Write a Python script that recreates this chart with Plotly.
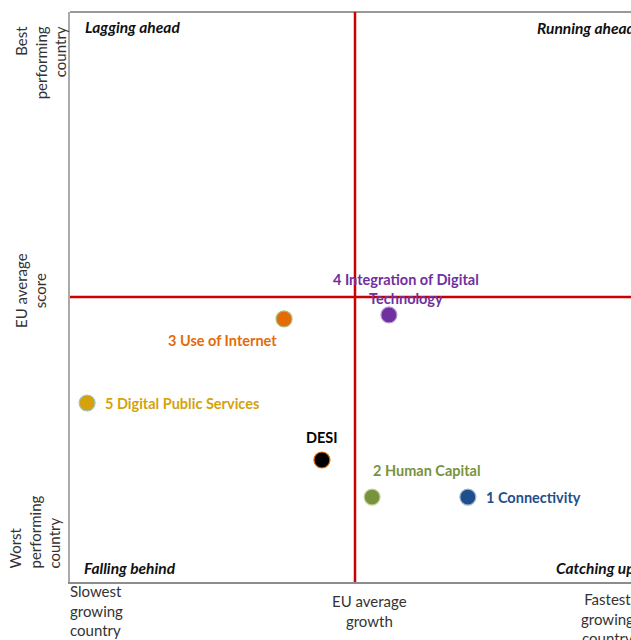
import plotly.graph_objects as go

# ---- data ----
names = ["DESI", "1 Connectivity", "2 Human Capital", "3 Use of Internet",
         "4 Integration of Digital<br>Technology", "5 Digital Public Services"]
growth = [-0.116, 0.396, 0.060, -0.249, 0.119, -0.940]
score = [-0.572, -0.702, -0.702, -0.077, -0.063, -0.372]

colors = ["#000000", "#1F4E8C", "#77933C", "#E36C09", "#7030A0", "#D4A20A"]
outlines = ["#E36C09", "#9DB3CC", "#C5D3A8", "#A9C07A", "#B79AD0", "#9FC5C9"]
label_colors = ["#000000", "#1F4E8C", "#77933C", "#E36C09", "#7030A0", "#D4A20A"]
# label placement (xanchor, xshift, yshift)
label_pos = [("center", 0, 23), ("left", 16, 0), ("left", -1, 27),
             ("right", -5, -22), ("center", 17, 26), ("left", 16, 0)]

x_range = [-1, 0.9684]
y_range = [-1, 1]

FONT = "Lato, 'Open Sans', sans-serif"
RED = "#CC0000"
AXIS = "#8C8C8C"

fig = go.Figure()

fig.add_trace(go.Scatter(
    x=growth, y=score, mode="markers",
    marker=dict(size=16, color=colors, line=dict(color=outlines, width=1.2)),
    hoverinfo="text", text=names, showlegend=False, cliponaxis=False))

annotations = []
for n, gx, sy, c, (xa, xs, ys) in zip(names, growth, score, label_colors, label_pos):
    annotations.append(dict(
        x=gx, y=sy, xref="x", yref="y", text="<b>" + n + "</b>", showarrow=False,
        xanchor=xa, yanchor="middle", xshift=xs, yshift=ys, align="center",
        font=dict(family=FONT, size=14.5, color=c)))

# quadrant labels
quad = [("Lagging ahead", 0.024, 0.9737, "left"),
        ("Running ahead", 1.013, 0.972, "right"),
        ("Falling behind", 0.022, 0.0246, "left"),
        ("Catching up", 1.010, 0.0246, "right")]
for t, px, py, xa in quad:
    annotations.append(dict(
        x=px, y=py, xref="paper", yref="paper", text="<b><i>" + t + "</i></b>",
        showarrow=False, xanchor=xa, yanchor="middle",
        font=dict(family=FONT, size=15.5, color="#111111")))

# axis descriptive labels
GREY_TXT = "#333333"
annotations += [
    dict(x=-0.004, y=0, xref="paper", yref="paper",
         text="Slowest<br>growing<br>country", showarrow=False,
         xanchor="left", yanchor="top", yshift=2, align="left",
         font=dict(family=FONT, size=15, color=GREY_TXT)),
    dict(x=0.533, y=0, xref="paper", yref="paper",
         text="EU average<br>growth", showarrow=False,
         xanchor="center", yanchor="top", yshift=-8, align="center",
         font=dict(family=FONT, size=15, color=GREY_TXT)),
    dict(x=0.958, y=0, xref="paper", yref="paper",
         text="Fastest<br>growing<br>country", showarrow=False,
         xanchor="center", yanchor="top", yshift=-6, align="center",
         font=dict(family=FONT, size=15, color=GREY_TXT)),
    dict(x=-0.052, y=0.979, xref="paper", yref="paper",
         text="Best<br>performing<br>country", showarrow=False, textangle=-90,
         xanchor="center", yanchor="top", align="right",
         font=dict(family=FONT, size=15, color=GREY_TXT)),
    dict(x=-0.0695, y=0.5105, xref="paper", yref="paper",
         text="EU average<br>score", showarrow=False, textangle=-90,
         xanchor="center", yanchor="middle", align="center",
         font=dict(family=FONT, size=15, color=GREY_TXT)),
    dict(x=-0.0624, y=0.021, xref="paper", yref="paper",
         text="Worst<br>performing<br>country", showarrow=False, textangle=-90,
         xanchor="center", yanchor="bottom", align="left",
         font=dict(family=FONT, size=15, color=GREY_TXT)),
]

shapes = [
    # top border
    dict(type="line", xref="paper", yref="paper", x0=0, x1=1.02, y0=1, y1=1,
         line=dict(color="#777777", width=1.5), layer="below"),
    # average lines
    dict(type="line", xref="x", yref="paper", x0=0, x1=0, y0=0, y1=1,
         line=dict(color=RED, width=2.5)),
    dict(type="line", xref="paper", yref="y", x0=0, x1=1.02, y0=0, y1=0,
         line=dict(color=RED, width=2.5)),
]

fig.update_layout(
    width=631, height=640,
    margin=dict(l=70, r=0, t=12, b=58),
    paper_bgcolor="white", plot_bgcolor="white",
    xaxis=dict(range=x_range, showgrid=False, zeroline=False, showticklabels=False,
               ticks="", showline=True, linecolor=AXIS, linewidth=1.5, fixedrange=True),
    yaxis=dict(range=y_range, showgrid=False, zeroline=False, showticklabels=False,
               ticks="", showline=True, linecolor="#AAAAAA", linewidth=1.5, fixedrange=True),
    annotations=annotations, shapes=shapes, showlegend=False,
    font=dict(family=FONT),
)

fig.write_html("out.html")
